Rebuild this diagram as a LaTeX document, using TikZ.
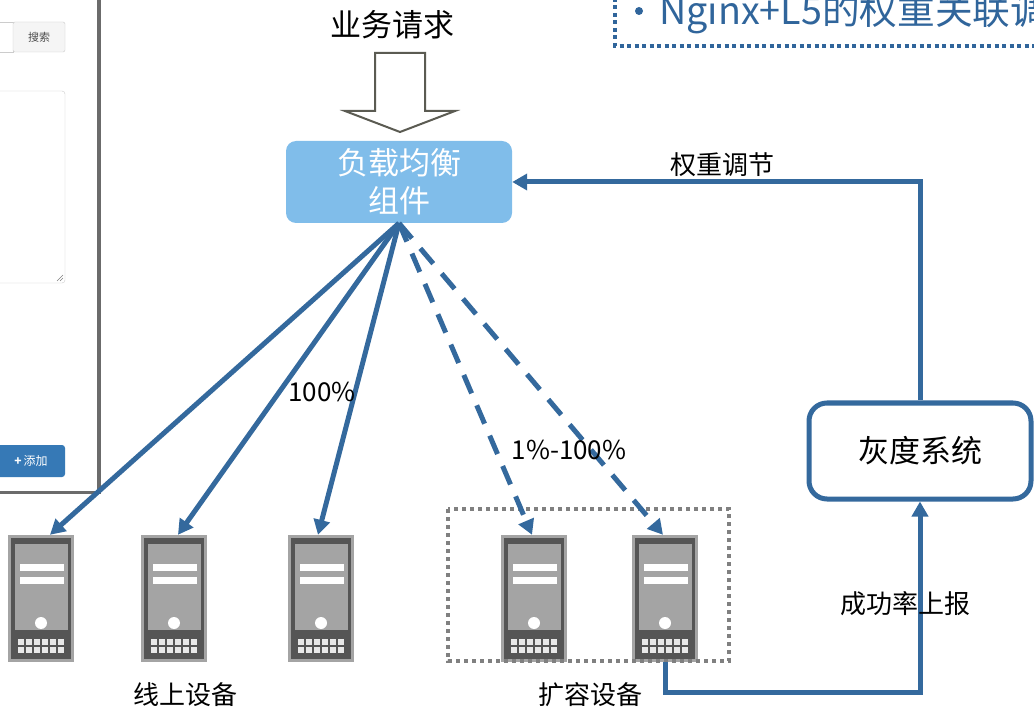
\documentclass[tikz,border=0pt]{standalone}
\usepackage{fontspec}
\setmainfont{Noto Sans CJK SC}
\usetikzlibrary{positioning,arrows.meta}
\definecolor{LinkBlue}{HTML}{34699D}
\definecolor{BalancerBlue}{HTML}{80BDEA}
\definecolor{ServerLight}{HTML}{A4A4A4}
\definecolor{ServerDark}{HTML}{555555}
\definecolor{ServerGrid}{HTML}{E8E8E8}
\definecolor{BlockGray}{HTML}{5B5B52}
\definecolor{PanelGray}{HTML}{6B6B6B}
\definecolor{FieldGray}{HTML}{CCCCCC}
\definecolor{ButtonBlue}{HTML}{3679B6}
\definecolor{TitleBlue}{HTML}{30659B}
\definecolor{GroupGray}{HTML}{808080}

% one server icon, #1 = node name, #2 = left edge
\newcommand{\drawserver}[2]{%
  \begin{scope}[shift={(#2,535)}]
    \node[server] (#1) at (33,63.5) {};
    \fill[ServerDark] (3,3) rectangle (63,124);
    \fill[ServerLight] (7,9) rectangle (60,95);
    \fill[white] (12,29) rectangle (56,36);
    \fill[white] (12,42) rectangle (56,49);
    \fill[white] (33,88) circle (6pt);
    \foreach \i in {0,...,5}
      \foreach \j in {0,1}
        \fill[ServerGrid] (10+\i*8,104+\j*8) rectangle ++(6,6);
  \end{scope}}

\begin{document}
\begin{tikzpicture}[x=1pt, y=-1pt,
    bigtext/.style={font=\fontsize{31}{38}\selectfont},
    labeltext/.style={font=\fontsize{26}{30}\selectfont},
    pcttext/.style={font=\fontsize{26}{30}\selectfont},
    server/.style={fill=ServerLight, inner sep=0pt, minimum width=66pt, minimum height=127pt},
    link/.style={LinkBlue, line width=5pt, -{Triangle[length=15pt,width=16pt]}},
    trial/.style={link, dash pattern=on 20pt off 13pt}]
    \useasboundingbox (0,0) rectangle (1034,711);
    \clip (0,0) rectangle (1034,711);

    % Screenshot fragment on the left
    \fill[white] (0,0) rectangle (99,492);
    \fill[PanelGray] (97,0) rectangle (101,494);
    \fill[PanelGray] (0,491) rectangle (101,494);
    \draw[FieldGray] (-3,22) rectangle (13,52);
    \node[draw=FieldGray, fill=gray!8, rounded corners=2pt, minimum width=52pt, minimum height=30pt,
          inner sep=0pt, font=\fontsize{11}{12}\selectfont, text=black!70] (search) at (39,37) {搜索};
    \draw[FieldGray, rounded corners=3pt] (-5,91) rectangle (65,283);
    \draw[gray] (57,281) -- (63,275) (60,281) -- (63,278);
    \node[fill=ButtonBlue, rounded corners=3pt, minimum width=68pt, minimum height=32pt, inner sep=0pt,
          text=white, font=\fontsize{12}{13}\selectfont] (add) at (31,461) {\textbf{+}\,添加};

    % Title box, cut by the right edge
    \draw[TitleBlue, line width=4pt, dash pattern=on 4pt off 3.5pt] (615,-2) -- (615,46) -- (1040,46);
    \fill[TitleBlue] (639,11) circle (4pt);
    \node[anchor=base west, inner sep=0pt, text=TitleBlue, font=\fontsize{37.7}{42}\selectfont]
          (title) at (659,25) {Nginx+L5的权重关联调};

    % Request and block arrow
    \node[bigtext] (request) at (392,25) {业务请求};
    \draw[BlockGray, line width=2pt, fill=white] (375,53) -- (425,53) -- (425,111) -- (455,111)
          -- (400,132) -- (345,111) -- (375,111) -- cycle;

    % Load balancer
    \node[fill=BalancerBlue, rounded corners=10pt, minimum width=226pt, minimum height=82pt,
          text=white, bigtext, align=center] (lb) at (399,182) {负载均衡\\组件};

    % Servers
    \drawserver{srv1}{8}
    \drawserver{srv2}{141}
    \drawserver{srv3}{288}
    \drawserver{srv4}{501}
    \drawserver{srv5}{632}

    % Group of new servers
    \draw[GroupGray, line width=4pt, dash pattern=on 4pt off 4pt] (448,509) rectangle (729,661);

    % Traffic arrows
    \draw[link] (lb.south) -- ([xshift=9pt]srv1.north);
    \draw[link] (lb.south) -- ([xshift=4pt]srv2.north);
    \draw[link] (lb.south) -- ([xshift=-3pt]srv3.north);
    \draw[trial] (lb.south) -- ([xshift=-2pt]srv4.north);
    \draw[trial] (lb.south) -- ([xshift=-2pt]srv5.north);
    \node[pcttext] (full) at (322,392) {100\%};
    \node[pcttext] (part) at (569,450) {1\%-100\%};

    % Gray release system
    \node[draw=LinkBlue, line width=5pt, rounded corners=18pt, minimum width=222pt, minimum height=96pt,
          bigtext] (gray) at (920,451) {灰度系统};
    \draw[link] (srv5.south) -- ++(0,30) -| (gray.south);
    \draw[link] (gray.north) |- (lb.east);

    % Labels
    \node[labeltext] (weight) at (722,165) {权重调节};
    \node[labeltext] (report) at (905,604) {成功率上报};
    \node[labeltext] (online) at (185,695) {线上设备};
    \node[labeltext] (expand) at (590,695) {扩容设备};
\end{tikzpicture}
\end{document}
